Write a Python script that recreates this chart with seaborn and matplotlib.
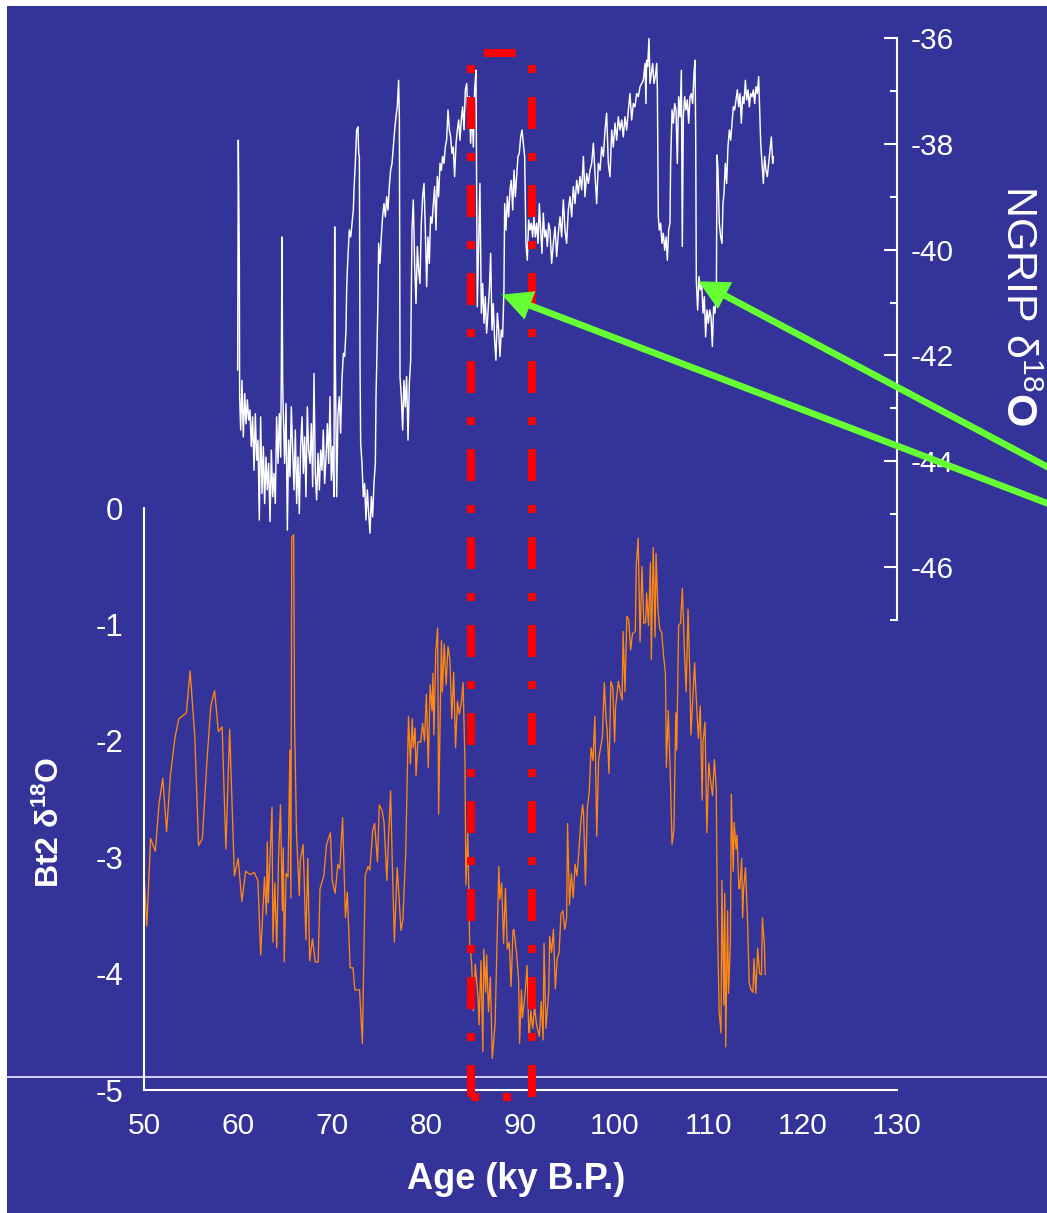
import matplotlib
matplotlib.use("Agg")
import matplotlib.pyplot as plt
import seaborn as sns
from matplotlib.patches import Rectangle
from matplotlib.lines import Line2D
from matplotlib.ticker import MultipleLocator, FixedLocator

# ---------------- data ----------------
ngrip_age = [
    59.95, 60.02, 60.13, 60.16, 60.27, 60.41, 60.55, 60.70, 60.84, 60.98,
    61.12, 61.26, 61.40, 61.54, 61.69, 61.83, 61.97, 62.11, 62.25, 62.39,
    62.54, 62.68, 62.82, 62.96, 63.10, 63.24, 63.39, 63.53, 63.67, 63.81,
    63.95, 64.09, 64.24, 64.38, 64.52, 64.59, 64.66, 64.73, 64.80, 64.94,
    65.09, 65.23, 65.37, 65.51, 65.65, 65.79, 65.94, 66.08, 66.22, 66.36,
    66.50, 66.64, 66.79, 66.93, 67.07, 67.21, 67.35, 67.49, 67.64, 67.78,
    67.92, 68.06, 68.20, 68.34, 68.49, 68.63, 68.77, 68.91, 69.05, 69.19,
    69.34, 69.48, 69.62, 69.76, 69.90, 70.04, 70.18, 70.26, 70.33, 70.47,
    70.61, 70.75, 70.89, 71.03, 71.18, 71.32, 71.46, 71.53, 71.60, 71.67,
    71.81, 71.96, 72.10, 72.24, 72.31, 72.45, 72.59, 72.73, 72.81, 72.88,
    72.95, 73.02, 73.16, 73.30, 73.44, 73.58, 73.73, 73.87, 74.01, 74.15,
    74.29, 74.43, 74.58, 74.65, 74.72, 74.86, 74.93, 75.07, 75.21, 75.35,
    75.50, 75.64, 75.78, 75.92, 76.06, 76.20, 76.35, 76.49, 76.63, 76.77,
    76.91, 77.05, 77.13, 77.20, 77.34, 77.48, 77.62, 77.76, 77.90, 78.05,
    78.19, 78.33, 78.47, 78.61, 78.75, 78.90, 79.04, 79.18, 79.32, 79.46,
    79.60, 79.75, 79.89, 80.03, 80.17, 80.31, 80.45, 80.60, 80.74, 80.88,
    81.02, 81.16, 81.30, 81.45, 81.59, 81.73, 81.87, 82.01, 82.15, 82.30,
    82.44, 82.58, 82.72, 82.86, 83.00, 83.15, 83.29, 83.43, 83.57, 83.71,
    83.85, 84.00, 84.14, 84.28, 84.42, 84.56, 84.70, 84.84, 84.99, 85.13,
    85.27, 85.34, 85.41, 85.55, 85.69, 85.84, 85.98, 86.12, 86.26, 86.40,
    86.54, 86.69, 86.83, 86.97, 87.11, 87.25, 87.39, 87.54, 87.68, 87.82,
    87.96, 88.10, 88.24, 88.32, 88.46, 88.60, 88.74, 88.88, 89.02, 89.17,
    89.31, 89.45, 89.59, 89.73, 89.87, 90.02, 90.16, 90.30, 90.44, 90.58,
    90.72, 90.87, 91.01, 91.15, 91.29, 91.43, 91.57, 91.72, 91.86, 92.00,
    92.14, 92.28, 92.42, 92.57, 92.71, 92.85, 92.99,
    93.13, 93.31, 93.49, 93.67, 93.84, 94.02, 94.20, 94.37, 94.55, 94.73,
    94.90, 95.08, 95.26, 95.44, 95.61, 95.79, 95.97, 96.14, 96.32, 96.50,
    96.68, 96.85, 97.03, 97.21, 97.38, 97.56, 97.74, 97.91, 98.09, 98.27,
    98.45, 98.62, 98.80, 98.98, 99.15, 99.33, 99.51, 99.69, 99.86, 100.04,
    100.22, 100.39, 100.57, 100.75, 100.92, 101.10, 101.28, 101.46, 101.63, 101.81,
    101.99, 102.16, 102.34, 102.52, 102.70, 102.87, 103.05, 103.23, 103.33, 103.40,
    103.51, 103.65, 103.76, 103.90, 104.04, 104.18, 104.32, 104.47, 104.54, 104.64,
    104.75, 104.89, 105.03, 105.17, 105.32, 105.46, 105.60, 105.74, 105.88, 105.95,
    106.10, 106.24, 106.38, 106.52, 106.66, 106.80, 106.95, 107.09, 107.19, 107.30,
    107.44, 107.58, 107.72, 107.87, 108.01, 108.15, 108.29, 108.43, 108.54, 108.61,
    108.68, 108.82, 108.96, 109.11, 109.25, 109.39, 109.53, 109.67, 109.81, 109.96,
    110.10, 110.24, 110.38, 110.52, 110.66, 110.81, 110.88, 110.98, 111.12, 111.27,
    111.41, 111.51, 111.62, 111.76, 111.90, 112.04, 112.19, 112.33, 112.47, 112.61,
    112.75, 112.89, 113.04, 113.18, 113.32, 113.46, 113.60, 113.74, 113.89, 114.03,
    114.17, 114.31, 114.45, 114.60, 114.74, 114.88, 115.02, 115.16, 115.30, 115.41,
    115.52, 115.66, 115.80, 115.94, 116.08, 116.22, 116.37, 116.51, 116.65, 116.79, 116.86,
]
ngrip_d18o = [
    -42.28, -37.93, -40.26, -42.78, -43.41, -42.47, -43.54, -42.72, -43.29, -42.84,
    -43.22, -43.03, -43.72, -43.16, -44.17, -43.10, -43.98, -43.60, -45.11, -43.16,
    -44.61, -43.72, -44.80, -43.92, -44.54, -44.04, -45.14, -43.79, -44.67, -44.23,
    -44.80, -43.16, -44.04, -43.10, -43.92, -42.28, -39.76, -42.47, -43.10, -44.04,
    -42.91, -45.30, -43.60, -44.29, -42.97, -43.72, -44.54, -43.41, -44.80, -43.92,
    -44.99, -43.72, -43.16, -44.23, -43.54, -44.67, -42.97, -43.79, -44.04, -43.29,
    -44.48, -42.34, -44.23, -44.73, -43.85, -44.54, -43.79, -44.17, -43.41, -44.42,
    -43.92, -43.29, -44.04, -42.78, -44.36, -43.72, -44.67, -39.57, -42.09, -44.67,
    -43.10, -42.78, -43.47, -42.47, -41.96, -42.02, -41.52, -40.76, -40.39, -40.13,
    -39.63, -39.76, -39.50, -39.25, -38.87, -38.37, -37.74, -37.68, -38.18, -38.24,
    -42.15, -43.66, -44.04, -44.67, -44.42, -45.11, -44.54, -44.99, -45.36, -44.67,
    -45.05, -44.42, -44.04, -42.78, -42.21, -40.89, -39.88, -40.26, -39.76, -39.38,
    -39.13, -39.38, -39.00, -39.25, -38.81, -38.50, -38.37, -38.06, -37.74, -37.49,
    -37.30, -36.80, -37.49, -42.40, -42.78, -43.41, -42.47, -42.97, -42.40, -43.60,
    -42.53, -42.09, -39.63, -39.06, -40.26, -41.02, -39.94, -40.39, -40.64, -39.50,
    -39.00, -38.75, -39.63, -40.70, -39.76, -40.26, -39.38, -39.50, -39.13, -38.81,
    -39.63, -38.62, -39.00, -38.37, -38.50, -38.24, -38.37, -38.06, -37.93, -37.36,
    -37.74, -37.87, -38.18, -38.06, -38.62, -37.99, -37.74, -37.55, -37.93, -37.55,
    -37.30, -37.74, -36.98, -36.86, -37.49, -37.11, -37.99, -37.36, -38.06, -36.98,
    -36.61, -38.69, -41.08, -39.94, -38.75, -41.20, -40.64, -41.39, -40.89, -41.58,
    -41.20, -40.76, -40.07, -41.52, -41.02, -41.71, -42.09, -41.20, -41.52, -42.02,
    -41.52, -41.65, -40.76, -39.13, -39.63, -39.00, -39.38, -38.87, -38.69, -39.25,
    -38.50, -39.00, -38.62, -38.24, -38.18, -37.87, -37.74, -37.99, -38.24, -39.88,
    -40.20, -39.44, -39.63, -39.50, -39.76, -39.38, -39.76, -39.50, -39.88, -39.13,
    -39.63, -40.07, -39.31, -39.76, -39.63, -39.94, -39.50,
    -39.63, -40.26, -39.88, -39.57, -40.13, -39.69, -39.38, -39.76, -39.06, -39.63,
    -39.88, -39.25, -39.00, -39.38, -38.81, -39.13, -38.69, -38.94, -38.62, -38.87,
    -38.24, -39.00, -38.56, -38.75, -38.50, -38.37, -37.99, -38.56, -39.13, -38.37,
    -38.50, -38.06, -38.24, -37.74, -37.42, -38.37, -38.62, -37.74, -38.06, -37.61,
    -37.93, -37.49, -37.74, -37.55, -37.87, -37.49, -37.74, -37.36, -37.05, -37.55,
    -37.24, -37.30, -37.05, -37.11, -36.92, -36.86, -36.80, -36.48, -37.24, -36.42,
    -36.54, -36.01, -36.86, -36.67, -36.48, -36.86, -36.73, -36.48, -36.98, -39.38,
    -39.63, -39.50, -39.88, -39.69, -40.01, -39.76, -40.20, -39.63, -39.50, -38.37,
    -37.36, -37.61, -37.24, -37.36, -38.37, -37.11, -37.49, -36.61, -39.94, -37.49,
    -37.11, -37.36, -37.17, -37.61, -37.11, -37.05, -37.24, -36.67, -36.42, -37.74,
    -40.57, -41.14, -40.51, -40.76, -40.64, -41.20, -40.89, -41.65, -41.14, -41.39,
    -41.14, -41.27, -41.83, -41.08, -41.20, -40.76, -38.21, -38.50, -39.50, -39.76,
    -39.88, -39.13, -38.94, -38.37, -38.75, -38.06, -37.74, -37.93, -37.61, -37.30,
    -37.36, -37.17, -36.98, -37.30, -37.05, -37.61, -37.11, -37.24, -36.80, -37.17,
    -36.98, -37.30, -37.05, -37.11, -36.98, -37.24, -36.92, -37.05, -36.73, -37.36,
    -37.99, -38.37, -38.75, -38.24, -38.50, -38.62, -38.37, -38.12, -37.87, -38.37, -38.24,
]

bt2_age = [
    50.0, 50.3, 50.7, 51.2, 51.6, 52.0, 52.4, 52.8, 53.3, 53.7,
    54.5, 54.9, 55.4, 55.8, 56.2, 56.7, 57.1, 57.5, 57.9, 58.3,
    58.7, 59.1, 59.6, 60.0, 60.4, 60.8, 61.3, 61.7, 62.1, 62.4,
    62.8, 63.0, 63.1, 63.2, 63.6, 63.7, 63.9, 64.1, 64.3, 64.5,
    64.7, 64.8, 64.9, 65.1, 65.3, 65.5, 65.6, 65.7, 65.9, 66.0,
    66.2, 66.5, 66.6, 66.9, 67.0, 67.2, 67.4, 67.6, 67.9, 68.2,
    68.5, 68.7, 69.1, 69.4, 69.8, 70.0, 70.3, 70.6, 70.8, 71.1,
    71.4, 71.6, 71.9, 72.2, 72.4, 72.9, 73.2, 73.5, 73.8, 74.0,
    74.3, 74.5, 74.8, 75.0, 75.3, 75.5, 75.8, 76.0, 76.2, 76.4,
    76.6, 76.9, 77.1, 77.3, 77.5, 77.8, 78.1, 78.3, 78.5, 78.6,
    78.8, 78.9, 79.1, 79.4, 79.6, 79.8, 80.0, 80.2, 80.4, 80.6,
    80.7, 80.8, 81.0, 81.2, 81.3, 81.6, 81.7, 81.9, 82.1, 82.3,
    82.5, 82.7, 82.9, 83.1, 83.3, 83.5, 83.7, 83.9, 84.1, 84.2,
    84.4, 84.5, 84.6, 84.8, 85.0, 85.2, 85.5, 85.6, 85.8, 86.0,
    86.1, 86.3, 86.4, 86.6, 86.8, 87.0, 87.3, 87.5, 87.7, 87.8,
    88.0, 88.2, 88.4, 88.6, 88.8, 89.0, 89.2, 89.3, 89.6, 89.8,
    89.9, 90.1, 90.2, 90.5, 90.7, 90.9, 91.1, 91.3, 91.5, 91.7,
    92.0, 92.2, 92.4, 92.5, 92.7, 93.0, 93.1, 93.3, 93.5, 93.7,
    93.9, 94.1, 94.3, 94.5, 94.7, 94.9, 95.0, 95.2, 95.4, 95.6,
    95.8, 96.0, 96.2, 96.4, 96.6, 96.7, 96.9, 97.1, 97.3, 97.5,
    97.7, 97.9, 98.1, 98.3, 98.5, 98.7, 98.9, 99.1, 99.2, 99.4,
    99.6, 99.8, 100.0, 100.1, 100.4, 100.6, 100.8, 100.9, 101.1, 101.3,
    101.5, 101.7, 101.9, 102.2, 102.3, 102.5, 102.7, 102.9, 103.1, 103.3,
    103.4, 103.6, 103.8, 103.9, 104.1, 104.3, 104.4, 104.6, 104.8, 105.0,
    105.2, 105.4, 105.5, 105.7, 105.9, 106.1, 106.3, 106.5, 106.6, 106.8,
    107.0, 107.2, 107.4, 107.6, 107.8, 108.0, 108.1, 108.3, 108.5, 108.6,
    108.8, 108.9, 109.1, 109.3, 109.4, 109.6, 109.8, 110.0, 110.2, 110.4,
    110.6, 110.8, 110.9, 111.1, 111.3, 111.4, 111.6, 111.7, 111.8, 112.0,
    112.1, 112.3, 112.4, 112.6, 112.7, 112.9, 113.0, 113.2, 113.3, 113.5,
    113.6, 113.7, 113.9, 114.1, 114.3, 114.5, 114.7, 114.8, 115.0, 115.2,
    115.4, 115.6, 115.7, 115.9, 116.0,
]
bt2_d18o = [
    -3.14, -3.59, -2.84, -2.95, -2.54, -2.32, -2.78, -2.30, -1.97, -1.81,
    -1.76, -1.40, -1.97, -2.90, -2.84, -2.16, -1.70, -1.57, -1.92, -1.88,
    -2.93, -1.90, -3.16, -3.01, -3.38, -3.12, -3.15, -3.13, -3.20, -3.84,
    -3.17, -3.49, -2.87, -3.39, -2.57, -3.73, -3.22, -3.78, -3.00, -2.55,
    -3.46, -2.92, -3.90, -3.14, -3.17, -2.08, -3.35, -0.25, -0.23, -1.84,
    -2.79, -3.33, -3.03, -2.89, -3.14, -3.71, -3.01, -3.89, -3.70, -3.90,
    -3.90, -3.27, -3.16, -2.89, -2.79, -3.20, -3.31, -3.06, -3.10, -2.66,
    -3.52, -3.30, -3.95, -3.95, -4.14, -4.14, -4.60, -3.16, -3.08, -3.11,
    -2.77, -2.71, -3.04, -2.55, -2.60, -2.70, -3.20, -2.79, -2.43, -3.11,
    -3.73, -3.09, -3.35, -3.63, -3.54, -2.98, -1.79, -2.20, -1.81, -2.06,
    -1.89, -2.30, -2.01, -2.01, -1.85, -2.00, -1.60, -2.23, -1.52, -1.74,
    -1.42, -1.95, -1.23, -1.03, -2.63, -1.14, -1.58, -1.17, -1.52, -1.19,
    -1.30, -1.81, -1.41, -2.06, -1.66, -1.77, -1.68, -1.50, -2.19, -3.24,
    -2.79, -3.24, -3.74, -3.90, -4.32, -3.92, -4.22, -4.44, -3.89, -4.67,
    -3.79, -4.16, -3.84, -4.33, -4.03, -4.73, -4.43, -3.74, -3.08, -3.36,
    -3.22, -3.74, -3.27, -3.79, -3.73, -4.11, -3.63, -3.62, -3.84, -4.06,
    -4.60, -4.14, -4.38, -4.16, -3.93, -4.57, -4.32, -4.47, -4.28, -4.44,
    -4.54, -4.24, -4.57, -3.74, -4.47, -4.16, -3.68, -3.82, -3.62, -4.13,
    -3.87, -3.82, -3.49, -3.46, -3.62, -3.52, -2.71, -3.41, -3.14, -3.35,
    -3.06, -3.16, -2.95, -2.70, -2.55, -2.63, -3.24, -2.58, -2.44, -2.06,
    -2.17, -1.79, -2.82, -2.16, -2.06, -1.97, -1.50, -1.82, -1.90, -2.28,
    -1.49, -1.54, -2.01, -1.71, -1.49, -1.58, -1.65, -1.06, -1.58, -0.93,
    -0.96, -1.22, -1.08, -1.06, -0.49, -0.26, -1.15, -0.50, -0.99, -0.98,
    -0.73, -1.01, -0.47, -1.30, -0.34, -1.11, -0.39, -0.88, -1.04, -1.07,
    -1.27, -1.42, -2.23, -1.74, -2.25, -2.89, -2.76, -1.76, -2.08, -1.01,
    -0.99, -0.69, -1.20, -1.58, -0.87, -1.47, -1.95, -1.65, -1.33, -1.52,
    -1.84, -1.98, -1.70, -2.51, -2.00, -1.84, -2.79, -2.19, -2.35, -2.47,
    -2.16, -2.41, -3.43, -4.32, -4.51, -3.20, -4.27, -3.31, -4.63, -3.46,
    -4.17, -3.74, -2.46, -3.12, -2.70, -2.93, -2.81, -3.27, -3.27, -3.01,
    -3.52, -3.28, -3.09, -3.49, -4.08, -4.14, -4.16, -3.87, -4.17, -3.78,
    -4.00, -4.01, -3.52, -3.74, -4.01,
]

# highlighted interval (ky B.P.) and its vertical extent in Bt2 units
highlight_ages = [84.74, 91.17]
box_top_bt2 = 3.91
box_bottom_bt2 = -5.06

# arrow targets on the NGRIP record (age, d18O)
arrow_age = [108.9, 88.0]
arrow_val = [-40.60, -40.85]

ngrip_ticks = [-46, -44, -42, -40, -38, -36]

# ---------------- styling ----------------
BG = "#333399"
ORANGE = "#ff8811"
RED = "#ff0000"
GREEN = "#66ff33"

sns.set_style("white")
plt.rcParams["font.family"] = ["Liberation Sans", "DejaVu Sans"]
plt.rcParams["axes.unicode_minus"] = False
plt.rcParams["mathtext.fontset"] = "custom"
plt.rcParams["mathtext.rm"] = "Liberation Sans"
plt.rcParams["mathtext.bf"] = "Liberation Sans:bold"
plt.rcParams["mathtext.it"] = "Liberation Sans:italic"

W, H = 1047, 1213
fig = plt.figure(figsize=(W / 100, H / 100), dpi=100, facecolor=BG)


def fx(px):
    return px / W


def fy(py):
    return 1 - py / H


# white slide margins (top and left)
fig.patches.append(Rectangle((0, fy(6)), 1, 6 / H, transform=fig.transFigure,
                             facecolor="white", edgecolor="none", zorder=0))
fig.patches.append(Rectangle((0, 0), fx(7), 1, transform=fig.transFigure,
                             facecolor="white", edgecolor="none", zorder=0))
# thin white rule across the slide
fig.add_artist(Line2D([fx(7), 1], [fy(1077), fy(1077)], transform=fig.transFigure,
                      color="white", lw=1.1, zorder=0.5))

ax_t = fig.add_axes([fx(144), fy(620), fx(897) - fx(144), fy(38) - fy(620)])
ax_b = fig.add_axes([fx(144), fy(1090), fx(897) - fx(144), fy(508) - fy(1090)])
ax_t.set_zorder(1)
ax_b.set_zorder(2)
for ax in (ax_t, ax_b):
    ax.set_facecolor("none")
    ax.patch.set_alpha(0)
    ax.set_xlim(50, 130)

# ---------------- series ----------------
sns.lineplot(x=ngrip_age, y=ngrip_d18o, ax=ax_t, color="white", lw=1.05,
             estimator=None, sort=False)
sns.lineplot(x=bt2_age, y=bt2_d18o, ax=ax_b, color=ORANGE, lw=0.95,
             estimator=None, sort=False)

# ---------------- bottom axes (Bt2) ----------------
ax_b.set_ylim(-5, 0)
ax_b.xaxis.set_major_locator(MultipleLocator(10))
ax_b.xaxis.set_minor_locator(MultipleLocator(5))
ax_b.yaxis.set_major_locator(MultipleLocator(1))
ax_b.yaxis.set_minor_locator(MultipleLocator(0.5))
for s in ("top", "right"):
    ax_b.spines[s].set_visible(False)
for s in ("left", "bottom"):
    ax_b.spines[s].set_color("white")
    ax_b.spines[s].set_linewidth(1.5)
ax_b.tick_params(axis="both", which="both", colors="white", width=1.5, direction="out")
ax_b.tick_params(axis="y", which="major", length=8, pad=7, labelsize=22.5)
ax_b.tick_params(axis="y", which="minor", length=4.3)
ax_b.tick_params(axis="x", which="major", length=8.5, pad=7.5, labelsize=21.5)
ax_b.tick_params(axis="x", which="minor", length=4.3)
ax_b.set_xlabel("Age (ky B.P.)", fontsize=26, fontweight="bold", color="white")
ax_b.xaxis.set_label_coords(0.494, -0.123)
ax_b.set_ylabel(r"Bt2 δ$^{\mathbf{18}}$O", fontsize=23, fontweight="bold", color="white")
ax_b.yaxis.set_label_coords(-0.103, 0.46)

# ---------------- top axes (NGRIP) ----------------
ax_t.set_ylim(-47, -36)
for s in ("top", "left", "bottom"):
    ax_t.spines[s].set_visible(False)
ax_t.spines["right"].set_color("white")
ax_t.spines["right"].set_linewidth(1.5)
ax_t.yaxis.tick_right()
ax_t.yaxis.set_major_locator(FixedLocator(ngrip_ticks))
ax_t.yaxis.set_minor_locator(MultipleLocator(1))
ax_t.tick_params(axis="x", which="both", bottom=False, labelbottom=False)
ax_t.tick_params(axis="y", which="both", colors="white", width=1.5, direction="in",
                 left=False, right=True, labelleft=False, labelright=True)
ax_t.tick_params(axis="y", which="major", length=9.4, pad=9.5, labelsize=21.5)
ax_t.tick_params(axis="y", which="minor", length=5)
ax_t.set_xlabel("")
ax_t.set_ylabel("")
ax_t.text(1.159, 0.54, r"NGRIP δ$^{\mathregular{18}}\mathbf{O}$", transform=ax_t.transAxes,
          rotation=-90, ha="center", va="center", fontsize=31, color="white")

# ---------------- highlighted interval (dash-dot box) ----------------
pattern = (4, 3, 1, 3)
lw_box = 5.76
a0, a1 = highlight_ages
for a in highlight_ages:
    ax_b.plot([a, a], [box_top_bt2, box_bottom_bt2], color=RED, lw=lw_box,
              ls=(5.5, pattern), dash_capstyle="butt", clip_on=False, zorder=5)
ax_b.plot([a0, a1], [box_top_bt2, box_top_bt2], color=RED, lw=lw_box,
          ls=(9.4, pattern), dash_capstyle="butt", clip_on=False, zorder=5)
ax_b.plot([a0, a1], [box_bottom_bt2, box_bottom_bt2], color=RED, lw=lw_box,
          ls=(0, (1, 3)), dash_capstyle="butt", clip_on=False, zorder=5)

# ---------------- green arrows ----------------
tails = [(1.022, fy(479)), (1.022, fy(512))]
for (ag, vl), tail in zip(zip(arrow_age, arrow_val), tails):
    ax_b.annotate("", xy=(ag, vl), xycoords=ax_t.transData,
                  xytext=tail, textcoords="figure fraction",
                  arrowprops=dict(arrowstyle="-|>,head_length=0.7,head_width=0.35",
                                  color=GREEN, lw=4.8, mutation_scale=20,
                                  shrinkA=0, shrinkB=0, joinstyle="miter"),
                  annotation_clip=False, zorder=6)

fig.savefig("out.png", dpi=100, facecolor=BG)
